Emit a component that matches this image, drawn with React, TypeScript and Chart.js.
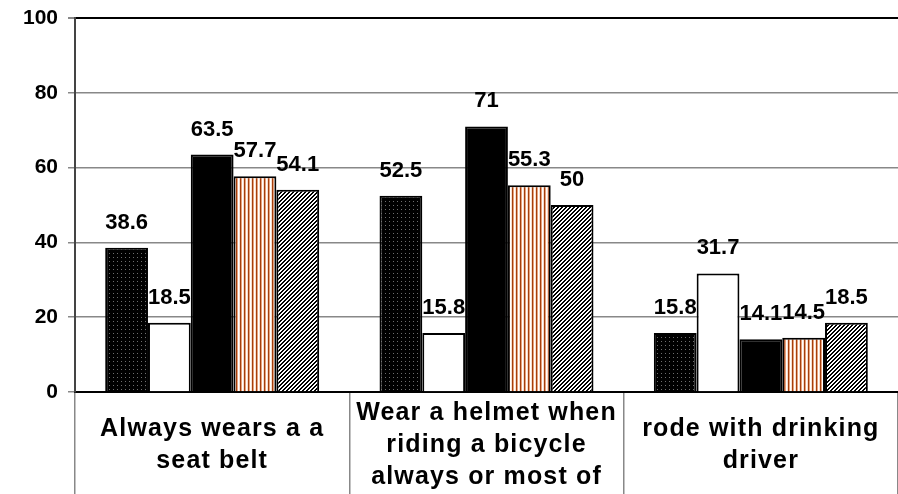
import React, { useEffect, useRef } from 'react';
import { Chart, registerables } from 'chart.js';

Chart.register(...registerables);

const categories: string[][] = [
  ['Always wears a a', 'seat belt'],
  ['Wear a helmet when', 'riding a bicycle', 'always or most of'],
  ['rode with drinking', 'driver'],
];
const seriesA = [38.6, 52.5, 15.8];
const seriesB = [18.5, 15.8, 31.7];
const seriesC = [63.5, 71, 14.1];
const seriesD = [57.7, 55.3, 14.5];
const seriesE = [54.1, 50, 18.5];
const yTicks = [0, 20, 40, 60, 80, 100];

const FONT = "'Liberation Sans', Arial, sans-serif";

function makePattern(w: number, h: number, draw: (g: CanvasRenderingContext2D) => void) {
  const c = document.createElement('canvas');
  c.width = w;
  c.height = h;
  const g = c.getContext('2d')!;
  draw(g);
  return g.createPattern(c, 'repeat')!;
}

export default function App() {
  const ref = useRef<HTMLCanvasElement>(null);

  useEffect(() => {
    document.body.style.margin = '0';
    const dotted = makePattern(4, 4, (g) => {
      g.fillStyle = '#000';
      g.fillRect(0, 0, 4, 4);
      g.fillStyle = '#6e6e6e';
      g.fillRect(1, 1, 1, 1);
    });
    const stripes = makePattern(4, 4, (g) => {
      const cols = ['#a33f0e', '#e8a27c', '#ffffff', '#f8dccb'];
      cols.forEach((c, i) => {
        g.fillStyle = c;
        g.fillRect(i, 0, 1, 4);
      });
    });
    const hatch = makePattern(4, 4, (g) => {
      g.fillStyle = '#fff';
      g.fillRect(0, 0, 4, 4);
      g.fillStyle = '#000';
      for (let x = 0; x < 4; x++) {
        for (let y = 0; y < 4; y++) {
          const m = (x + y) % 4;
          if (m === 0 || m === 1) g.fillRect(x, y, 1, 1);
        }
      }
    });

    const labelPlugin = {
      id: 'valueLabels',
      beforeDraw(chart: any) {
        (chart.ctx as any).letterSpacing = '0px';
      },
      afterDatasetsDraw(chart: any) {
        const ctx = chart.ctx as CanvasRenderingContext2D;
        ctx.save();
        ctx.font = `bold 22px ${FONT}`;
        ctx.fillStyle = '#000';
        ctx.textAlign = 'center';
        ctx.textBaseline = 'alphabetic';
        chart.data.datasets.forEach((ds: any, di: number) => {
          const meta = chart.getDatasetMeta(di);
          meta.data.forEach((el: any, i: number) => {
            ctx.fillText(String(ds.data[i]), el.x, el.y - 19);
          });
        });
        ctx.restore();
        (ctx as any).letterSpacing = '1.15px';
      },
      afterDraw(chart: any) {
        (chart.ctx as any).letterSpacing = '0px';
      },
    };

    const common = { borderColor: '#000', borderWidth: 2, categoryPercentage: 0.78, barPercentage: 1 };

    const chart = new Chart(ref.current!, {
      type: 'bar',
      data: {
        labels: categories,
        datasets: [
          { label: 'A', data: seriesA, backgroundColor: dotted, ...common },
          { label: 'B', data: seriesB, backgroundColor: '#ffffff', ...common },
          { label: 'C', data: seriesC, backgroundColor: '#000000', ...common },
          { label: 'D', data: seriesD, backgroundColor: stripes, ...common },
          { label: 'E', data: seriesE, backgroundColor: hatch, ...common },
        ],
      },
      options: {
        responsive: false,
        animation: false,
        layout: { padding: { top: 18, right: 0, left: 1, bottom: 0 } },
        plugins: { legend: { display: false }, tooltip: { enabled: false } },
        scales: {
          x: {
            offset: true,
            grid: {
              offset: true,
              drawOnChartArea: false,
              color: '#888',
              tickColor: '#888',
              lineWidth: 1.5,
              tickLength: 110,
            },
            border: { color: '#000', width: 2 },
            ticks: {
              color: '#000',
              font: { family: FONT, size: 25, weight: 'bold', lineHeight: 32 / 25 },
              padding: -89,
              crossAlign: 'center',
              maxRotation: 0,
              autoSkip: false,
              z: 1,
            },
            afterFit: (s: any) => {
              s.height = 102;
              s.paddingLeft = 0;
              s.paddingRight = 0;
            },
          },
          y: {
            min: 0,
            max: 100,
            afterBuildTicks: (s: any) => {
              s.ticks = yTicks.map((v) => ({ value: v }));
            },
            ticks: {
              color: '#000',
              font: { family: FONT, size: 21, weight: 'bold' },
              padding: 10,
            },
            grid: {
              color: (c: any) => (c.tick && (c.tick.value === 100 || c.tick.value === 0) ? '#000' : '#888'),
              lineWidth: (c: any) => (c.tick && c.tick.value === 100 ? 2 : 1.5),
              tickColor: '#888',
              tickLength: 7,
            },
            border: { color: '#444', width: 2 },
            afterFit: (s: any) => {
              s.width = 74;
              s.paddingTop = 0;
              s.paddingBottom = 0;
            },
          },
        },
      },
      plugins: [labelPlugin],
    } as any);

    return () => chart.destroy();
  }, []);

  return (
    <div style={{ position: 'fixed', left: 0, top: 0, width: 898, height: 494, background: '#fff' }}>
      <canvas ref={ref} width={898} height={494} />
    </div>
  );
}
